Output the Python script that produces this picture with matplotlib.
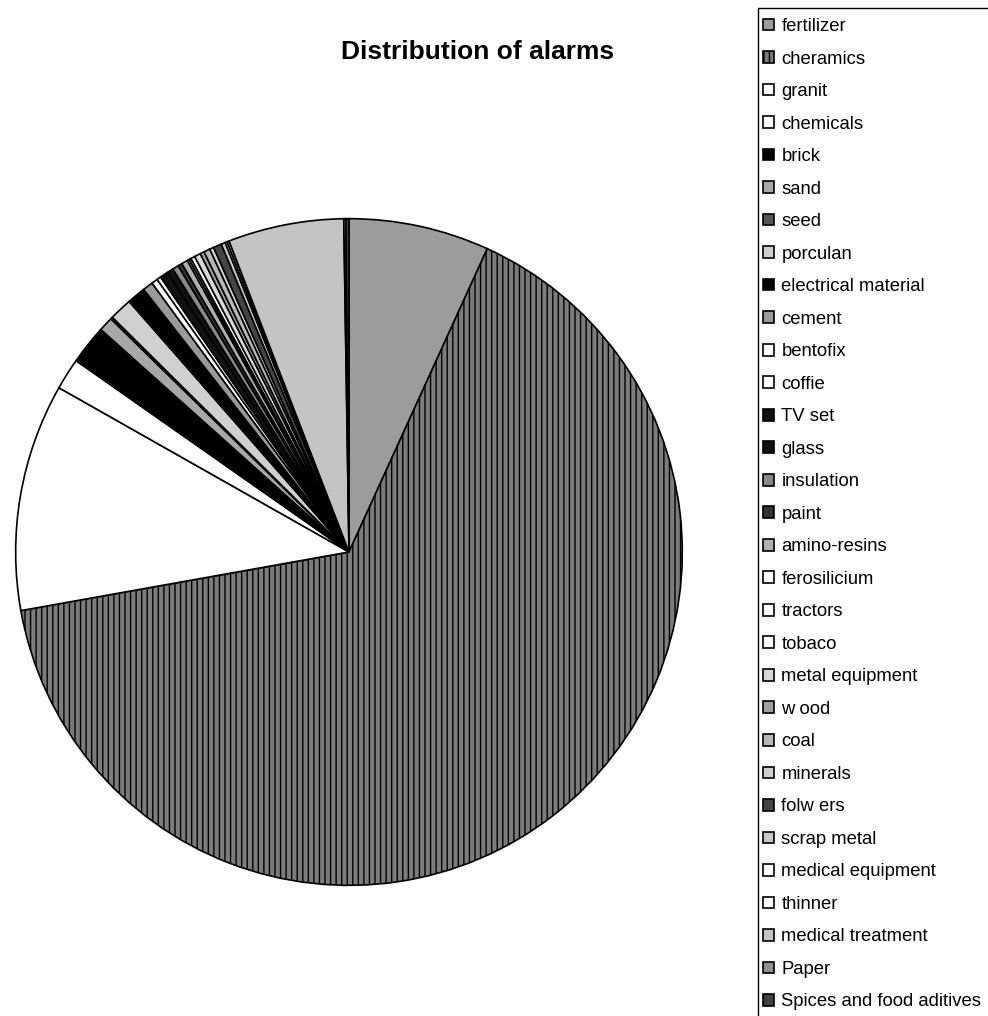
import matplotlib
matplotlib.use('Agg')
import matplotlib.pyplot as plt
from matplotlib.patches import Rectangle

plt.rcParams['font.family'] = ['Liberation Sans', 'DejaVu Sans']
plt.rcParams['hatch.linewidth'] = 1.0
plt.rcParams['hatch.color'] = 'black'

# categories in legend order (clockwise from 12 o'clock)
labels = ['fertilizer', 'cheramics', 'granit', 'chemicals', 'brick', 'sand', 'seed',
          'porculan', 'electrical material', 'cement', 'bentofix', 'coffie', 'TV set',
          'glass', 'insulation', 'paint', 'amino-resins', 'ferosilicium', 'tractors',
          'tobaco', 'metal equipment', 'w ood', 'coal', 'minerals', 'folw ers',
          'scrap metal', 'medical equipment', 'thinner', 'medical treatment', 'Paper',
          'Spices and food aditives']

# share of alarms, %
share = [6.8, 65.3, 11.0, 1.53, 1.9, 0.7, 0.1,
         1.1, 0.9, 0.5, 0.3, 0.2, 0.4,
         0.3, 0.3, 0.2, 0.3, 0.1, 0.1,
         0.2, 0.3, 0.2, 0.3, 0.2, 0.4,
         0.2, 0.1, 0.1, 5.6, 0.1,
         0.15]

colors = ['#9c9c9c', '#7c7c7c', 'white', 'white', 'black', '#a8a8a8', '#555555',
          '#d0d0d0', 'black', '#9a9a9a', 'white', 'white', '#111111',
          '#111111', '#8a8a8a', '#333333', '#b0b0b0', 'white', 'white',
          'white', '#d8d8d8', '#a0a0a0', '#b8b8b8', '#d0d0d0', '#444444',
          '#c8c8c8', 'white', 'white', '#c4c4c4', '#909090',
          '#404040']

fig = plt.figure(figsize=(9.88, 10.16), dpi=100)
ax = fig.add_axes([14 / 988, 129 / 1016, 670 / 988, 670 / 1016])

wedges, _ = ax.pie(share, colors=colors, startangle=90, counterclock=False,
                   radius=1, wedgeprops={'edgecolor': 'black', 'linewidth': 1.2})
wedges[1].set_hatch('|||')
ax.set_xlim(-1.005, 1.005)
ax.set_ylim(-1.005, 1.005)
ax.set_aspect('equal')
ax.axis('off')

fig.text(478 / 988, 1 - 52 / 1016, 'Distribution of alarms', ha='center', va='center',
         fontsize=19, fontweight='bold')

# legend frame runs off the right and bottom edges, like the original
fig.add_artist(Rectangle((758 / 988, -0.1), 0.3, 1.1 - 8 / 1016, transform=fig.transFigure,
                         fill=False, edgecolor='black', linewidth=1.0))
leg = fig.legend(wedges, labels, loc='upper left', bbox_to_anchor=(763 / 988, 1 - 18 / 1016),
                 fontsize=13.3, frameon=False,
                 handlelength=0.6, handleheight=0.6, handletextpad=0.4,
                 labelspacing=0.84, borderpad=0, borderaxespad=0)

fig.savefig('out.png', dpi=100)
